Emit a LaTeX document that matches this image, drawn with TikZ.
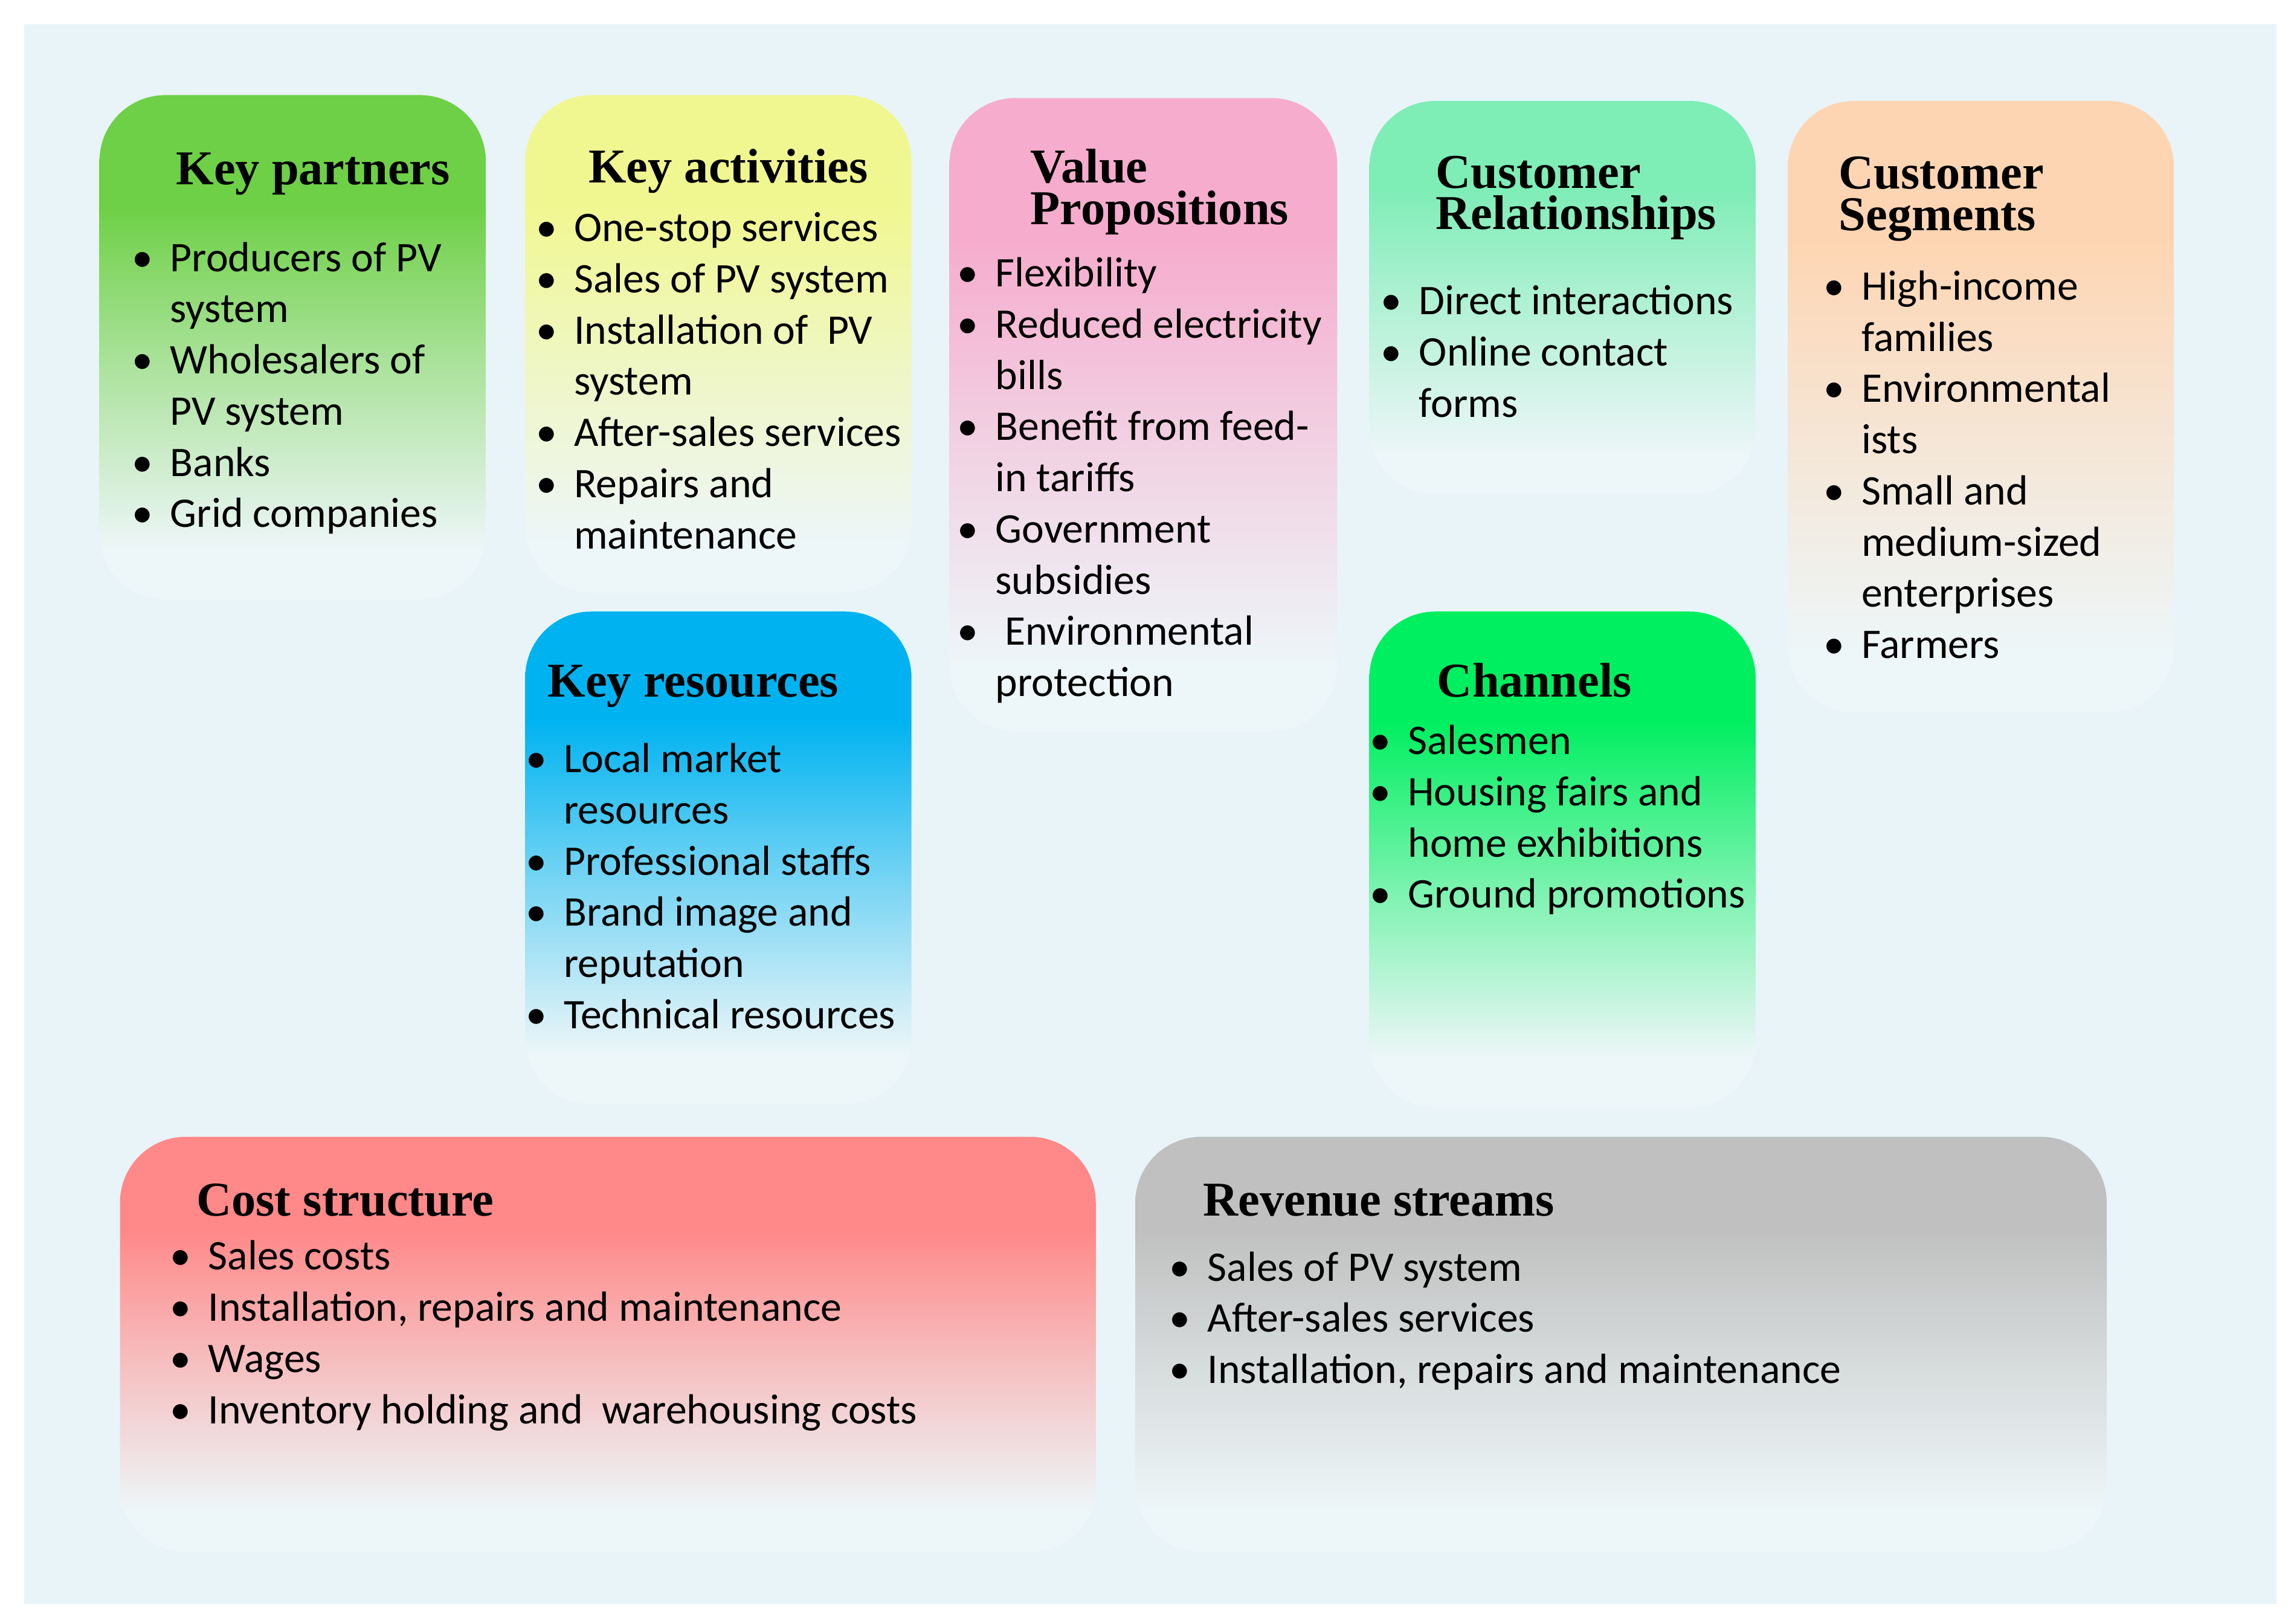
\documentclass[tikz,border=0pt]{standalone}
\usepackage{fontspec}
\setmainfont{Carlito}
\newfontfamily\headfont{Liberation Serif}
\definecolor{bgc}{HTML}{E9F4F9}
\definecolor{fadec}{HTML}{EDF6F8}
\definecolor{kpc}{HTML}{6ED046}
\definecolor{kac}{HTML}{F1F790}
\definecolor{vpc}{HTML}{F6ACCD}
\definecolor{crc}{HTML}{7EEDB6}
\definecolor{csc}{HTML}{FED5B2}
\definecolor{krc}{HTML}{00B3F0}
\definecolor{chc}{HTML}{00EF60}
\definecolor{coc}{HTML}{FF8888}
\definecolor{rvc}{HTML}{C0C0C0}
\colorlet{topc}{white}
\pgfdeclareverticalshading[topc,fadec]{cellfade}{100bp}{color(0bp)=(fadec); color(30bp)=(fadec); color(47bp)=(topc!48!fadec); color(64bp)=(topc); color(100bp)=(topc)}
\newlength\bind \setlength\bind{12pt}
\newcommand\itm[1]{\hbox{\hbox to \bind{\hskip-1pt •\hfil}#1}}
\newcommand\cnt[1]{\hbox{\hskip\bind #1}}
\newcommand\blist[1]{\vtop{\baselineskip=17.5pt\lineskiplimit=-\maxdimen\lineskip=0pt #1}}
\newcommand\hd[1]{\vtop{\baselineskip=14.2pt\lineskiplimit=-\maxdimen\lineskip=0pt #1}}
\tikzset{
  cell/.style={/utils/exec={\colorlet{topc}{#1}}, shading=cellfade, rounded corners=22.5pt},
  head/.style={font=\headfont\bfseries\fontsize{16.6pt}{14pt}\selectfont, inner sep=0pt, anchor=base west},
  body/.style={font=\fontsize{14.4pt}{17.5pt}\selectfont, inner sep=0pt, anchor=base west}
}
\begin{document}
\begin{tikzpicture}[x=0.5pt,y=-0.5pt]
\useasboundingbox (0,0) rectangle (1568,1110);
\fill[white] (0,0) rectangle (1568,1110);
\fill[bgc] (16.5,16.5) rectangle (1556,1096.4);
% boxes
\shade[cell=kpc] (68,65) rectangle (332,410);
\shade[cell=kac] (359,65) rectangle (623,405);
\shade[cell=vpc] (649,67) rectangle (914,500);
\shade[cell=crc] (936,69) rectangle (1200,338);
\shade[cell=csc] (1222,69) rectangle (1486,487);
\shade[cell=krc] (359,418) rectangle (623,755);
\shade[cell=chc] (936,418) rectangle (1200,757);
\shade[cell=coc] (82,777) rectangle (749,1061);
\shade[cell=rvc] (776,777) rectangle (1440,1061);
% key partners
\node[head] (kph) at (120,126) {Key partners};
\node[body] (kpl) at (92,185.5) {\blist{\itm{Producers of PV}\cnt{system}\itm{Wholesalers of}\cnt{PV system}\itm{Banks}\itm{Grid companies}}};
% key activities
\node[head] (kah) at (402,125) {Key activities};
\node[body] (kal) at (368,165) {\blist{\itm{One-stop services}\itm{Sales of PV system}\itm{Installation of\ \ PV}\cnt{system}\itm{After-sales services}\itm{Repairs and}\cnt{maintenance}}};
% value propositions
\node[head] (vph) at (704,125) {\hd{\hbox{Value}\hbox{Propositions}}};
\node[body] (vpl) at (656,196) {\blist{\itm{Flexibility}\itm{Reduced electricity}\cnt{bills}\itm{Benefit from feed-}\cnt{in tariffs}\itm{Government}\cnt{subsidies}\itm{\ Environmental}\cnt{protection}}};
% customer relationships
\node[head] (crh) at (981,128.5) {\hd{\hbox{Customer}\hbox{Relationships}}};
\node[body] (crl) at (945.6,215) {\blist{\itm{Direct interactions}\itm{Online contact}\cnt{forms}}};
% customer segments
\node[head] (csh) at (1256.6,129) {\hd{\hbox{Customer}\hbox{Segments}}};
\node[body] (csl) at (1248,205) {\blist{\itm{High-income}\cnt{families}\itm{Environmental}\cnt{ists}\itm{Small and}\cnt{medium-sized}\cnt{enterprises}\itm{Farmers}}};
% key resources
\node[head] (krh) at (374,476.5) {Key resources};
\node[body] (krl) at (361,528) {\blist{\itm{Local market}\cnt{resources}\itm{Professional staffs}\itm{Brand image and}\cnt{reputation}\itm{Technical resources}}};
% channels
\node[head] (chh) at (982,476.5) {Channels};
\node[body] (chl) at (938,515.6) {\blist{\itm{Salesmen}\itm{Housing fairs and}\cnt{home exhibitions}\itm{Ground promotions}}};
% cost structure
\node[head] (coh) at (134,831) {Cost structure};
\node[body] (col) at (118,868) {\blist{\itm{Sales costs}\itm{Installation, repairs and maintenance}\itm{Wages}\itm{Inventory holding and\ \ warehousing costs}}};
% revenue streams
\node[head] (rvh) at (822,831) {Revenue streams};
\node[body] (rvl) at (801,875.5) {\blist{\itm{Sales of PV system}\itm{After-sales services}\itm{Installation, repairs and maintenance}}};
\end{tikzpicture}
\end{document}
